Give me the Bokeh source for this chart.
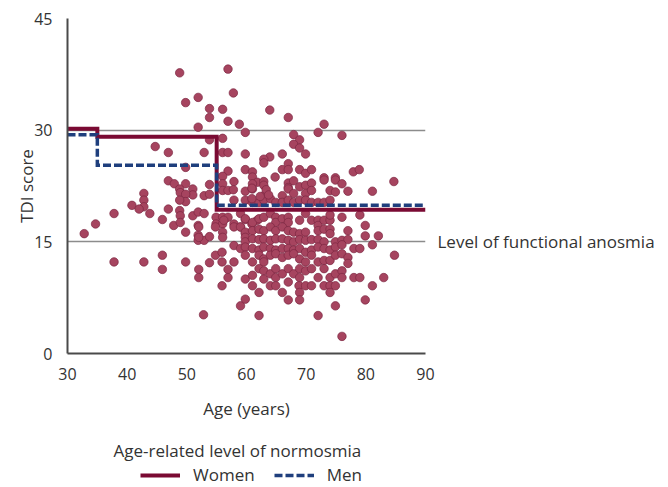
from bokeh.plotting import figure
from bokeh.layouts import column
from bokeh.models import FixedTicker, Legend, LegendItem, ColumnDataSource, LinearAxis, Label
from bokeh.embed import file_html
from bokeh.resources import INLINE

# ---- scatter data (age in years, TDI score) ----
age_a = [48.8, 56.9, 57.8, 49.8, 51.9, 53.8, 56.0, 53.8, 56.9, 58.8, 51.9, 59.8, 53.8, 56.0, 44.7, 46.9, 52.9, 56.0, 56.9, 59.8, 49.8, 59.8, 56.9, 56.0, 61.0, 61.0]
tdi_a = [37.7, 38.2, 35.0, 33.7, 34.4, 32.9, 32.8, 31.7, 31.2, 30.8, 30.4, 29.7, 28.7, 28.9, 27.8, 27.0, 27.0, 27.0, 27.0, 26.8, 25.0, 24.7, 24.5, 23.8, 24.4, 23.7]

age_b = [63.9, 67.0, 73.0, 72.0, 76.0, 67.9, 68.9, 67.9, 68.9, 69.9, 63.9, 62.9, 62.9, 66.0, 67.0, 66.0, 67.0, 68.9, 69.9, 70.9, 64.8, 73.0, 74.9, 77.9, 78.9]
tdi_b = [32.7, 31.7, 30.8, 29.7, 29.3, 29.4, 28.7, 28.1, 27.6, 26.8, 26.4, 26.1, 25.6, 26.8, 25.5, 24.7, 24.7, 24.7, 24.2, 24.7, 23.7, 23.6, 23.6, 24.4, 24.7]

age_c = [46.9, 47.9, 49.8, 53.8, 56.0, 57.9, 61.8, 48.8, 51.0, 48.9, 51.0, 52.9, 53.8, 49.8, 56.0, 56.9, 57.8, 61.0, 62.9, 62.9, 67.0, 67.0, 67.9, 68.9, 69.9, 70.9, 73.0, 74.9, 76.0, 84.7]
tdi_c = [23.2, 22.8, 22.8, 22.7, 22.8, 23.1, 23.0, 22.1, 22.1, 21.6, 21.3, 21.2, 21.4, 21.4, 21.9, 21.9, 22.0, 22.8, 23.1, 22.6, 22.9, 22.3, 23.2, 22.4, 22.6, 22.9, 23.3, 23.3, 22.8, 23.1]

age_d = [59.8, 61.0, 62.9, 66.0, 67.0, 67.9, 69.9, 70.9, 74.0, 74.9, 77.0, 81.1, 60.9, 63.3]
tdi_d = [21.8, 22.1, 21.2, 21.2, 22.1, 21.5, 21.5, 21.9, 21.9, 21.7, 21.8, 21.8, 22.2, 22.0]

age_e = [59.8, 61.0, 62.1, 62.9, 64.0, 64.9, 66.0, 67.0, 67.9, 68.9, 69.9, 70.9, 72.0, 73.0, 74.0, 49.8, 57.9, 60.9, 62.3, 63.7, 48.8, 42.8, 42.8, 42.8, 40.8, 42.0]
tdi_e = [20.6, 20.3, 20.3, 20.6, 20.8, 20.3, 20.3, 20.6, 20.3, 20.6, 20.6, 20.3, 20.3, 20.3, 20.6, 20.4, 20.6, 20.8, 21.1, 21.3, 20.6, 21.5, 20.6, 19.7, 19.9, 19.4]

age_f = [37.8, 34.7, 32.8, 43.8, 45.9, 46.9, 47.8, 48.8, 49.8, 51.0, 51.9, 51.9, 51.9, 51.9, 52.9, 52.9, 53.8, 54.9, 54.9, 56.0, 56.0, 56.0, 56.0, 57.9, 56.9, 59.0, 59.8, 59.8, 60.9, 61.8, 48.9, 48.9, 56.2, 52.0, 52.0, 54.8, 57.9, 57.9]
tdi_f = [18.8, 17.4, 16.1, 18.8, 18.0, 19.4, 17.2, 19.2, 16.3, 18.5, 19.0, 17.2, 15.9, 15.2, 18.8, 15.2, 15.7, 18.3, 17.4, 18.3, 17.4, 16.3, 15.6, 17.4, 18.3, 17.0, 18.0, 16.1, 17.4, 17.9, 18.5, 17.6, 17.9, 17.0, 15.6, 17.0, 17.0, 14.5]

age_g1 = [59.0, 59.8, 61.0, 62.1, 62.9, 64.0, 64.9, 64.9, 66.0, 67.0, 67.0, 68.9, 69.9, 70.9, 72.0, 72.0, 73.0, 74.0, 74.0, 76.0, 79.0, 79.9]
tdi_g1 = [18.8, 18.1, 17.6, 18.1, 18.3, 18.8, 18.3, 17.6, 18.1, 18.3, 17.6, 17.9, 18.8, 17.9, 17.9, 17.2, 17.9, 17.9, 18.6, 18.3, 18.6, 17.2]

age_g2 = [59.0, 59.8, 61.0, 62.1, 62.9, 64.0, 64.9, 66.0, 67.0, 67.9, 68.9, 69.9, 72.0, 73.0, 74.0, 74.0, 77.0, 79.9, 82.1]
tdi_g2 = [17.0, 16.3, 16.5, 16.7, 16.5, 17.0, 16.5, 17.0, 16.5, 16.3, 16.1, 16.3, 16.5, 16.7, 16.7, 16.1, 16.5, 15.8, 15.8]

age_g3 = [59.8, 59.8, 61.0, 62.1, 62.9, 64.0, 64.9, 66.0, 67.0, 67.9, 68.9, 69.9, 70.9, 72.0, 73.0, 74.9, 76.0, 77.0, 81.1]
tdi_g3 = [15.6, 15.0, 15.4, 15.3, 15.4, 15.2, 15.4, 15.4, 15.2, 15.0, 15.3, 15.2, 15.3, 15.3, 15.0, 15.0, 15.2, 15.3, 14.6]

age_g4 = [59.0, 59.8, 59.8, 61.0, 62.1, 62.9, 64.0, 64.9, 66.0, 67.0, 67.9, 68.9, 69.9, 70.9, 72.0, 73.0, 74.0, 74.9, 76.0, 78.0, 79.0, 84.8]
tdi_g4 = [14.1, 14.3, 13.2, 14.1, 13.9, 14.3, 14.1, 13.9, 14.1, 14.1, 13.9, 14.1, 13.6, 13.9, 14.3, 14.1, 13.9, 14.3, 14.6, 14.1, 14.1, 13.2]

age_g5 = [61.0, 62.1, 62.9, 62.9, 64.0, 64.9, 66.0, 67.0, 67.9, 68.9, 69.9, 70.9, 72.0, 73.0, 74.0, 74.9, 76.0, 77.0, 77.0]
tdi_g5 = [12.3, 13.2, 12.7, 12.3, 13.2, 13.4, 12.9, 13.2, 13.4, 12.7, 12.3, 13.2, 12.3, 12.5, 12.5, 13.2, 13.4, 12.9, 12.1]

age_g6 = [59.8, 61.0, 62.1, 62.9, 62.9, 64.0, 64.9, 64.9, 66.0, 67.0, 67.9, 68.9, 68.9, 69.9, 70.9, 72.0, 73.0, 74.0, 74.9, 76.0, 76.0, 78.0, 79.0, 83.0]
tdi_g6 = [10.0, 10.5, 11.4, 11.1, 10.0, 10.7, 11.4, 10.2, 10.7, 11.4, 10.7, 11.4, 10.2, 11.1, 11.4, 10.2, 11.4, 10.2, 10.7, 11.1, 10.2, 10.2, 10.2, 10.2]

age_g7 = [61.0, 62.1, 64.0, 64.9, 66.0, 67.0, 68.8, 68.9, 69.9, 70.9, 73.0, 74.0, 74.9, 74.0, 81.1]
tdi_g7 = [9.1, 8.2, 9.1, 9.1, 8.2, 9.6, 9.1, 8.2, 9.1, 9.1, 9.1, 9.1, 9.1, 8.2, 9.1]

age_g8 = [59.0, 59.8, 67.0, 68.9, 74.9, 79.9, 62.1, 72.0, 76.0]
tdi_g8 = [6.4, 7.3, 7.2, 7.2, 6.4, 7.2, 5.1, 5.1, 2.3]

age_h = [49.8, 52.0, 52.0, 53.8, 54.8, 55.9, 55.9, 56.9, 56.9, 57.9, 55.9, 52.8, 37.8, 42.8, 45.9, 45.9]
tdi_h = [12.3, 11.3, 10.2, 12.2, 13.2, 13.6, 12.3, 11.3, 10.2, 12.3, 9.1, 5.2, 12.3, 12.3, 13.2, 11.3]

# ---- age-related level of normosmia (step lines) ----
step_ages = [30, 35, 55, 90]
women_level = [30.2, 29.1, 19.3, 19.3]
men_level = [29.4, 25.3, 19.9, 19.9]

x_ticks = [30, 40, 50, 60, 70, 80, 90]
y_ticks = [0, 15, 30, 45]
anosmia_level = 15

ages = (age_a + age_b + age_c + age_d + age_e + age_f + age_g1 + age_g2 + age_g3
        + age_g4 + age_g5 + age_g6 + age_g7 + age_g8 + age_h)
tdis = (tdi_a + tdi_b + tdi_c + tdi_d + tdi_e + tdi_f + tdi_g1 + tdi_g2 + tdi_g3
        + tdi_g4 + tdi_g5 + tdi_g6 + tdi_g7 + tdi_g8 + tdi_h)

FONT = "Open Sans"
TXT = "#333333"
WOMEN_COLOR = "#7a0a33"
MEN_COLOR = "#1f3f7d"

# ---------------- main chart ----------------
p = figure(width=668, height=435, x_range=(30, 90), y_range=(0, 45),
           output_backend="svg", toolbar_location=None,
           min_border_left=67, min_border_right=243, min_border_top=18,
           min_border_bottom=82)
p.outline_line_color = None
p.background_fill_color = "white"
p.border_fill_color = "white"

p.xgrid.visible = False
p.ygrid.ticker = FixedTicker(ticks=y_ticks)
p.ygrid.grid_line_color = "#8c8c8c"
p.ygrid.grid_line_width = 1.5

for ax, ticks in ((p.xaxis[0], x_ticks), (p.yaxis[0], y_ticks)):
    ax.ticker = FixedTicker(ticks=ticks)
    ax.major_tick_line_color = None
    ax.minor_tick_line_color = None
    ax.axis_line_color = "#4a4a4a"
    ax.axis_line_width = 2
    ax.major_label_text_font = FONT
    ax.major_label_text_font_size = "16px"
    ax.major_label_text_color = TXT
    ax.axis_label_text_font = FONT
    ax.axis_label_text_font_size = "17px"
    ax.axis_label_text_font_style = "normal"
    ax.axis_label_text_color = TXT

p.xaxis.axis_label = "Age (years)"
p.xaxis.major_label_standoff = 8
p.xaxis.axis_label_standoff = 14
p.yaxis.axis_label = "TDI score"
p.yaxis.major_label_standoff = 9
p.yaxis.axis_label_standoff = -7

# right-hand annotation of the anosmia threshold, as a tick label of a right axis
right_axis = LinearAxis(ticker=FixedTicker(ticks=[anosmia_level]),
                        major_label_overrides={anosmia_level: "Level of functional anosmia"},
                        axis_line_color=None, major_tick_line_color=None,
                        minor_tick_line_color=None, major_label_standoff=6,
                        major_label_text_font=FONT, major_label_text_font_size="17px",
                        major_label_text_color=TXT)
p.add_layout(right_axis, "right")

src = ColumnDataSource(dict(age=ages, tdi=tdis))
p.scatter("age", "tdi", source=src, size=8.5, fill_color="#a6445f",
          line_color="#7c2742", line_width=0.7)

p.step(step_ages, women_level, mode="after", line_color=WOMEN_COLOR,
       line_width=4, line_join="miter")
p.step(step_ages, men_level, mode="after", line_color=MEN_COLOR,
       line_width=3.5, line_dash="8 3", line_join="miter")

# ---------------- legend strip (frame aligned with the main chart) ----------------
STRIP_H = 52
leg = figure(width=668, height=STRIP_H, x_range=(0, 1), y_range=(0, 1),
             output_backend="svg", toolbar_location=None,
             x_axis_location=None, y_axis_location=None, min_border=0)
leg.outline_line_color = None
leg.xgrid.visible = False
leg.ygrid.visible = False
leg.border_fill_color = "white"
leg.background_fill_color = "white"

# legend heading: 46 px right of the frame's left edge, 37 px above the strip bottom
leg.add_layout(Label(x=46 / 358, y=37 / STRIP_H, text="Age-related level of normosmia",
                     text_font=FONT, text_font_size="17px", text_color=TXT,
                     text_baseline="middle", text_align="left"))

# the same step series, out of this strip's range: only their legend samples show
w_r = leg.step(step_ages, women_level, line_color=WOMEN_COLOR, line_width=4)
m_r = leg.step(step_ages, men_level, line_color=MEN_COLOR, line_width=3.5, line_dash="8 3")
legend = Legend(items=[LegendItem(label="Women", renderers=[w_r]),
                       LegendItem(label="Men", renderers=[m_r])],
                orientation="horizontal", location=(73, 1),
                padding=0, margin=0, spacing=19, glyph_width=40, glyph_height=20,
                label_standoff=13, label_height=20,
                label_text_font=FONT, label_text_font_size="17px",
                label_text_color=TXT, border_line_color=None,
                background_fill_alpha=0)
leg.add_layout(legend, "center")

layout = column(p, leg, spacing=0)
open("out.html", "w").write(file_html(layout, INLINE))
